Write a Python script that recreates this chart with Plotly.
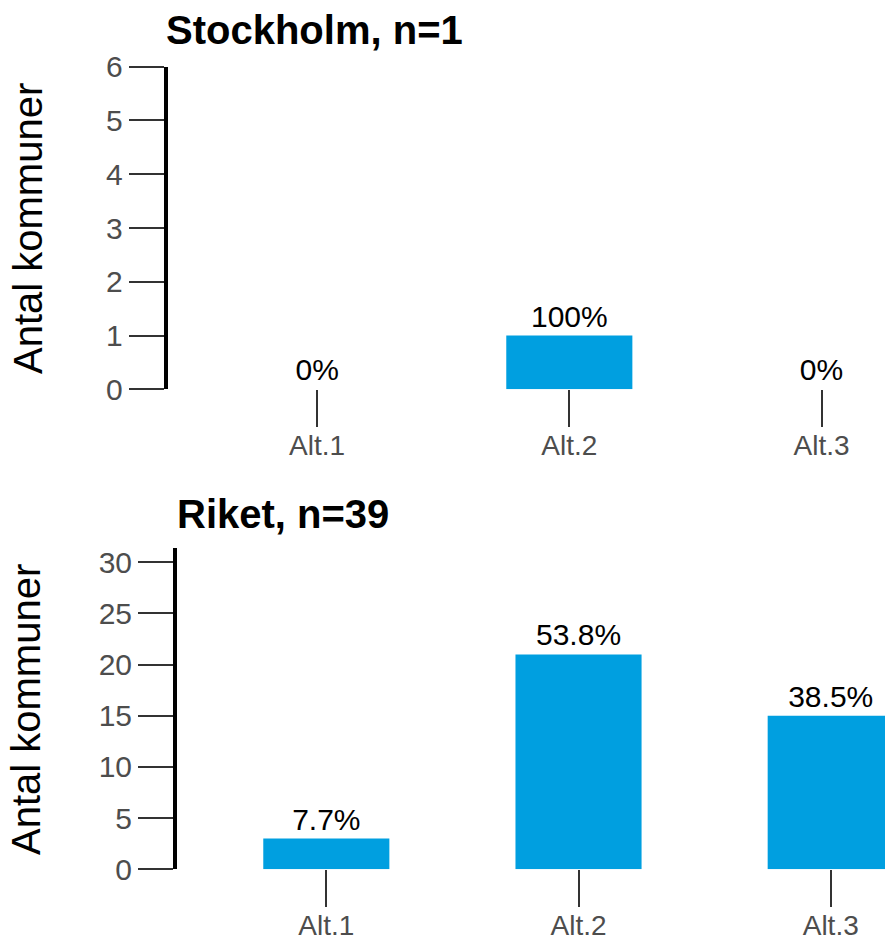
import plotly.graph_objects as go

categories = ["Alt.1", "Alt.2", "Alt.3"]
stockholm_values = [0, 1, 0]
riket_values = [3, 21, 15]
stockholm_n = 1
riket_n = 39
stockholm_title = "Stockholm, n=1"
riket_title = "Riket, n=39"
y_title = "Antal kommuner"
stockholm_yticks = [0, 1, 2, 3, 4, 5, 6]
riket_yticks = [0, 5, 10, 15, 20, 25, 30]

BAR = "#009FE0"
FONT = "Liberation Sans"
TICKC = "#4D4D4D"
W, H = 885, 942
LW = 4                 # y axis line width
STEP = 252.2           # pixels per category


def fx(px):  # screen x -> paper fraction
    return px / W


def fy(py):  # screen y -> paper fraction
    return 1 - py / H


def pct(v, n):
    p = round(v / n * 100, 1)
    s = f"{p:.1f}"
    if s.endswith(".0"):
        s = s[:-2]
    return s + "%"


fig = go.Figure()
fig.add_trace(go.Bar(
    x=categories, y=stockholm_values, width=0.5, marker_color=BAR,
    marker_line_width=0,
    text=[pct(v, stockholm_n) for v in stockholm_values],
    textposition="outside", cliponaxis=False,
    textfont=dict(family=FONT, size=30, color="black"),
    xaxis="x", yaxis="y", showlegend=False, hoverinfo="skip"))
fig.add_trace(go.Bar(
    x=categories, y=riket_values, width=0.5, marker_color=BAR,
    marker_line_width=0,
    text=[pct(v, riket_n) for v in riket_values],
    textposition="outside", cliponaxis=False,
    textfont=dict(family=FONT, size=30, color="black"),
    xaxis="x2", yaxis="y2", showlegend=False, hoverinfo="skip"))

# screen positions measured on the reference
top_line, bot_line = 165.8, 175.0
top_y0, top_y1 = 389.3, 66.7
bot_y0, bot_y1 = 869.3, 548.0

xcommon = dict(type="category", showline=False, showgrid=False, zeroline=False,
               ticks="outside", ticklen=37, tickwidth=1.6, tickcolor="#333333",
               automargin=False, ticklabelstandoff=-6,
               tickfont=dict(family=FONT, size=28, color=TICKC))
ycommon = dict(showline=True, linecolor="black", linewidth=LW, showgrid=False,
               zeroline=False, ticks="outside", ticklen=35, tickwidth=1.6,
               tickcolor="#333333", automargin=False,
               tickfont=dict(family=FONT, size=30, color=TICKC))


def xrange_for(line):
    left = -0.6 + (LW / 2) / STEP
    right = -0.6 + (885 - line) / STEP
    return [left, right]


fig.update_layout(
    width=W, height=H,
    margin=dict(l=0, r=0, t=0, b=0, pad=0, autoexpand=False),
    plot_bgcolor="white", paper_bgcolor="white",
    bargap=0.5,
    xaxis=dict(**xcommon, domain=[fx(top_line + LW / 2), 1],
               range=xrange_for(top_line), anchor="y"),
    yaxis=dict(**ycommon, domain=[fy(top_y0), fy(top_y1)], range=[0, 6],
               tickvals=stockholm_yticks, anchor="x"),
    xaxis2=dict(**xcommon, domain=[fx(bot_line + LW / 2), 1],
                range=xrange_for(bot_line), anchor="y2"),
    yaxis2=dict(**ycommon, domain=[fy(bot_y0), fy(bot_y1)], range=[0, 31.4],
                tickvals=riket_yticks, anchor="x2"),
    annotations=[
        dict(text=f"<b>{stockholm_title}</b>", xref="paper", yref="paper",
             x=fx(164), y=fy(30), xanchor="left", yanchor="middle",
             showarrow=False, font=dict(family=FONT, size=40, color="black")),
        dict(text=f"<b>{riket_title}</b>", xref="paper", yref="paper",
             x=fx(175), y=fy(514), xanchor="left", yanchor="middle",
             showarrow=False, font=dict(family=FONT, size=40, color="black")),
        dict(text=y_title, xref="paper", yref="paper", textangle=-90,
             x=fx(28), y=fy(229), xanchor="center", yanchor="middle",
             borderpad=0,
             showarrow=False, font=dict(family=FONT, size=40, color="black")),
        dict(text=y_title, xref="paper", yref="paper", textangle=-90,
             x=fx(26), y=fy(710), xanchor="center", yanchor="middle",
             borderpad=0,
             showarrow=False, font=dict(family=FONT, size=40, color="black")),
    ],
)

fig.write_html(
    "out.html",
    config={"displayModeBar": False},
    post_script="document.body.style.margin='0';document.body.style.overflow='hidden';",
)
